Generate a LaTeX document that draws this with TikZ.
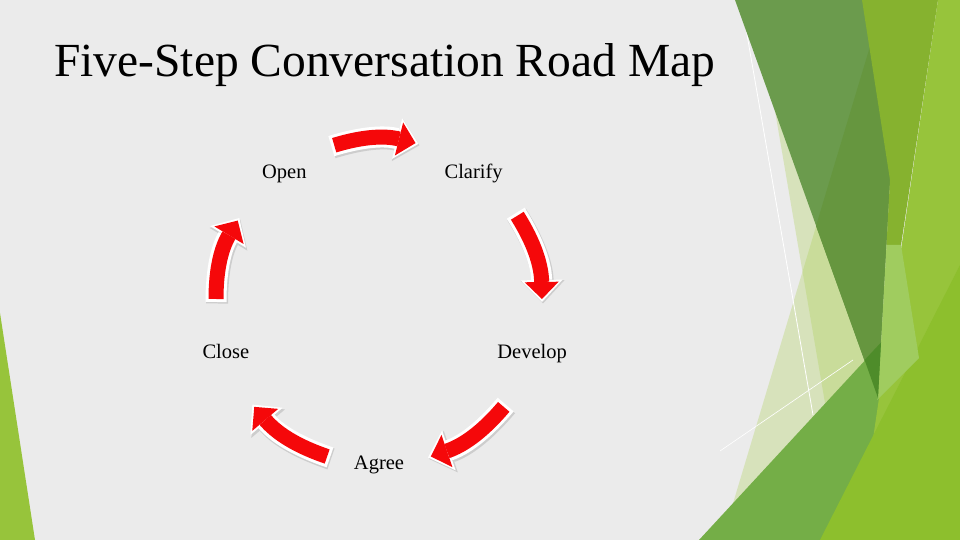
\documentclass[tikz,border=0pt]{standalone}
\usepackage{fontspec}
\setmainfont{Liberation Serif}
\usetikzlibrary{arrows.meta,calc}
\definecolor{slide}{RGB}{235,235,235}
\definecolor{cyred}{RGB}{245,8,10}
\definecolor{shade}{RGB}{205,205,205}
\definecolor{gband}{RGB}{107,155,77}
\definecolor{gbandd}{RGB}{102,150,63}
\definecolor{gdeep}{RGB}{78,140,42}
\definecolor{golive}{RGB}{134,178,47}
\definecolor{glime}{RGB}{151,196,59}
\definecolor{gmid}{RGB}{116,174,71}
\definecolor{gyel}{RGB}{141,191,45}
\definecolor{gpale}{RGB}{169,208,79}
\definecolor{glight}{RGB}{160,204,95}

\begin{document}
\begin{tikzpicture}[x=1pt,y=1pt,
    lbl/.style={font=\fontsize{20.5}{24}\selectfont,anchor=base,inner sep=0pt},
    arrshade/.style={line width=22pt,draw=shade,-{Triangle[length=23pt,width=44pt,line width=0pt]}},
    arredge/.style={line width=21pt,draw=white,-{Triangle[length=22pt,width=42pt,line width=0pt]}},
    arrbody/.style={line width=15pt,draw=cyred,-{Triangle[length=17pt,width=34pt,line width=0pt]},
                    shorten <=3pt,shorten >=3pt}]
  \fill[slide] (0,0) rectangle (960,540);
  \useasboundingbox (0,0) rectangle (960,540);
  % facets on the right and the left edge
  \begin{scope}[yscale=-1,shift={(0,-540)}]
    \fill[gpale,opacity=.3] (884,0) -- (716,560) -- (878,398) -- (900,0) -- cycle;
    \fill[gpale,opacity=.3] (756,0) -- (870,0) -- (875,380) -- (825,403) -- cycle;
    \draw[white,line width=.8pt] (741,0) -- (813,415);
    \draw[white,line width=.6pt] (720,451) -- (853,360);
    \fill[gband] (735,0) -- (900,0) -- (878,398) -- cycle;
    \fill[gbandd] (884,0) -- (900,0) -- (878,398) -- (816,226) -- cycle;
    \fill[golive] (862,0) -- (938,0) -- (901,245) -- (886.5,245) -- (890,180) -- cycle;
    \fill[gmid] (699,540) -- (882,342) -- (960,258) -- (960,540) -- cycle;
    \fill[glime] (938,0) -- (960,0) -- (960,540) -- (858,540) -- cycle;
    \fill[gyel] (820,540) -- (960,265) -- (960,540) -- cycle;
    \fill[glight] (901,245) -- (919,358) -- (877,400) -- (878,398) -- (886.5,245) -- cycle;
    \fill[gdeep] (864.6,360) -- (881,342.5) -- (878,398) -- cycle;
    \fill[glime] (0,313) -- (35,540) -- (0,540) -- cycle;
  \end{scope}

  \node[anchor=base west,inner sep=0pt,font=\fontsize{47.5}{56}\selectfont] (title) at (54,463)
    {Five-Step Conversation Road Map};

  \coordinate (c) at (379,238);
  \node[lbl] (open)    at ($(c)+(126:161)+(0,-7)$) {Open};
  \node[lbl] (clarify) at ($(c)+(54:161)+(0,-7)$)  {Clarify};
  \node[lbl] (develop) at ($(c)+(-18:161)+(0,-7)$) {Develop};
  \node[lbl] (agree)   at ($(c)+(-90:161)+(0,-7)$) {Agree};
  \node[lbl] (close)   at ($(c)+(198:161)+(0,-7)$) {Close};

  % curved arrows of the cycle
  \foreach \a/\b [count=\i] in {107/76,33/0,-39/-72.5,-107.5/-141,180/149}{
    \coordinate (t\i) at ($(c)+(\a:163)$);
    \coordinate (h\i) at ($(c)+(\b:163)$);
  }
  \foreach \i in {1,...,5}{
    \draw[arrshade] ([shift={(1,-1.5)}]t\i) to[bend left=15.5] ([shift={(1,-1.5)}]h\i);
    \draw[arredge] (t\i) to[bend left=15.5] (h\i);
    \draw[arrbody] (t\i) to[bend left=15.5] (h\i);
  }
\end{tikzpicture}
\end{document}
